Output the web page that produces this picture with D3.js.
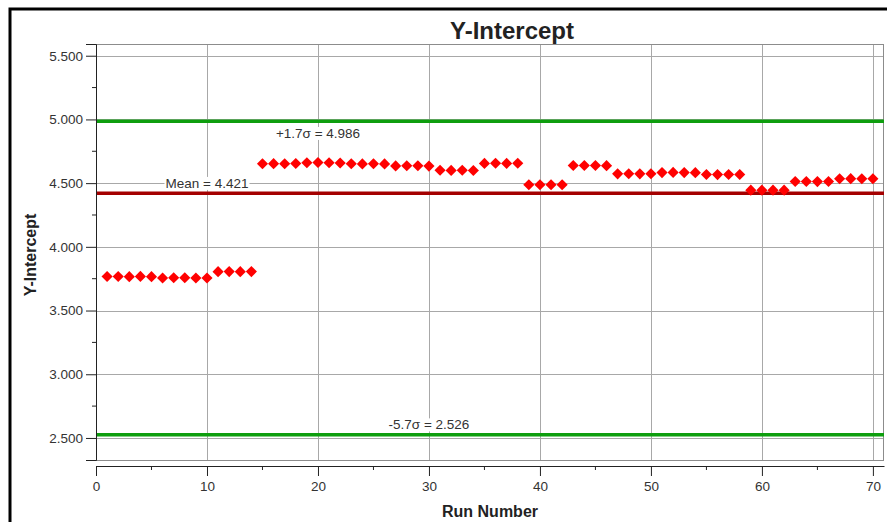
<!DOCTYPE html>
<html>
<head>
<meta charset="utf-8">
<style>
  body { margin: 0; background: #fff; }
  text { font-family: "Liberation Sans", Arial, sans-serif; }
</style>
</head>
<body>
<svg width="887" height="522"></svg>
<script src="https://d3js.org/d3.v7.min.js"></script>
<script>

// Data
var runs = d3.range(1, 71);
var yIntercept = [
  3.767, 3.767, 3.766, 3.768, 3.766, 3.755, 3.757, 3.757, 3.755, 3.755,
  3.805, 3.806, 3.805, 3.806,
  4.652, 4.653, 4.652, 4.654, 4.660, 4.662, 4.660, 4.658, 4.652, 4.651,
  4.652, 4.651, 4.635, 4.636, 4.636, 4.634, 4.601, 4.600, 4.601, 4.599,
  4.655, 4.656, 4.655, 4.656,
  4.487, 4.487, 4.487, 4.487, 4.638, 4.638, 4.638, 4.637,
  4.573, 4.574, 4.573, 4.574, 4.583, 4.584, 4.583, 4.582,
  4.568, 4.567, 4.568, 4.568,
  4.445, 4.445, 4.445, 4.445, 4.513, 4.513, 4.512, 4.513,
  4.534, 4.535, 4.534, 4.534
];
var lineValues = [4.986, 4.421, 2.526];
var lineLabels = ["+1.7\u03c3 = 4.986", "Mean = 4.421", "-5.7\u03c3 = 2.526"];
var yTicks = [2.5, 3.0, 3.5, 4.0, 4.5, 5.0, 5.5];
var xTicks = [0, 10, 20, 30, 40, 50, 60, 70];

var svg = d3.select("svg");
var margin = {top: 44, left: 96, right: 3, bottom: 62};
var width = 887 - margin.left - margin.right,
    height = 522 - margin.top - margin.bottom;

// outer frame (runs off the right/bottom edge)
svg.append("rect")
    .attr("x", 10).attr("y", 9)
    .attr("width", 900).attr("height", 600)
    .attr("fill", "none").attr("stroke", "#000").attr("stroke-width", 3);

var x = d3.scaleLinear().domain([0, 71]).range([0, width]);
var y = d3.scaleLinear().domain([2.327, 5.592]).range([height, 0]);

var g = svg.append("g").attr("transform", "translate(" + margin.left + "," + margin.top + ")");

// grid
g.append("g").selectAll("line").data(yTicks).join("line")
    .attr("x1", 0).attr("x2", width)
    .attr("y1", function(d) { return Math.round(y(d)) + 0.5; })
    .attr("y2", function(d) { return Math.round(y(d)) + 0.5; })
    .attr("stroke", "#a8a8a8");
g.append("g").selectAll("line").data(xTicks.slice(1)).join("line")
    .attr("x1", function(d) { return Math.round(x(d)) + 0.5; })
    .attr("x2", function(d) { return Math.round(x(d)) + 0.5; })
    .attr("y1", 0).attr("y2", height)
    .attr("stroke", "#a8a8a8");

// plot frame
g.append("rect")
    .attr("x", 0.5).attr("y", 0.5)
    .attr("width", width - 1).attr("height", height)
    .attr("fill", "none").attr("stroke", "#8c8c8c");

// control lines
var lineColors = ["#0e9e0e", "#a40000", "#0e9e0e"];
g.append("g").selectAll("line").data(lineValues).join("line")
    .attr("x1", 0).attr("x2", width)
    .attr("y1", function(d) { return y(d); })
    .attr("y2", function(d) { return y(d); })
    .attr("stroke", function(d, i) { return lineColors[i]; })
    .attr("stroke-width", 3.5);

// control line labels
var labelAt = [20, 10, 30], labelDy = [12, -10, -10];
var lbl = g.append("g").selectAll("g").data(lineValues).join("g")
    .attr("transform", function(d, i) {
      return "translate(" + x(labelAt[i]) + "," + (y(d) + labelDy[i]) + ")";
    });
lbl.append("text")
    .attr("text-anchor", "middle")
    .attr("dy", "0.35em")
    .attr("font-size", 13.5)
    .attr("fill", "#333")
    .text(function(d, i) { return lineLabels[i]; })
    .each(function() {
      var b = this.getBBox();
      d3.select(this.parentNode).insert("rect", "text")
          .attr("x", b.x - 1).attr("y", b.y + 1)
          .attr("width", b.width + 2).attr("height", b.height - 2)
          .attr("fill", "#fff");
    });

// points
g.append("g").selectAll("path").data(yIntercept).join("path")
    .attr("d", d3.symbol(d3.symbolSquare, 62))
    .attr("transform", function(d, i) {
      return "translate(" + x(runs[i]) + "," + y(d) + ") rotate(45)";
    })
    .attr("fill", "#ff0000");

// y axis
var yAxis = g.append("g")
    .call(d3.axisLeft(y).tickValues(yTicks).tickFormat(d3.format(".3f")).tickSize(10).tickPadding(3));
yAxis.select(".domain").attr("stroke", "#222");
yAxis.selectAll(".tick line").attr("stroke", "#222");
yAxis.selectAll("text").attr("font-size", 13.5).attr("fill", "#333");
g.append("g").selectAll("line").data(d3.range(2.75, 5.5, 0.5)).join("line")
    .attr("x1", -4).attr("x2", 0)
    .attr("y1", function(d) { return y(d); }).attr("y2", function(d) { return y(d); })
    .attr("stroke", "#222");

// x axis, set a little below the plot
var xAxis = g.append("g")
    .attr("transform", "translate(0," + (height + 6) + ")")
    .call(d3.axisBottom(x).tickValues(xTicks).tickSize(10).tickPadding(5).tickSizeOuter(0));
xAxis.select(".domain").attr("stroke", "#222");
xAxis.selectAll(".tick line").attr("stroke", "#222");
xAxis.selectAll("text").attr("font-size", 13.5).attr("fill", "#333");
xAxis.append("g").selectAll("line").data(d3.range(5, 71, 10)).join("line")
    .attr("x1", function(d) { return x(d); }).attr("x2", function(d) { return x(d); })
    .attr("y1", 0).attr("y2", 4)
    .attr("stroke", "#222");

// titles
svg.append("text")
    .attr("x", 512).attr("y", 39)
    .attr("text-anchor", "middle")
    .attr("font-size", 24).attr("font-weight", "bold").attr("fill", "#222")
    .text("Y-Intercept");
svg.append("text")
    .attr("x", 490).attr("y", 517)
    .attr("text-anchor", "middle")
    .attr("font-size", 16).attr("font-weight", "bold").attr("fill", "#222")
    .text("Run Number");
svg.append("text")
    .attr("transform", "translate(36,255) rotate(-90)")
    .attr("text-anchor", "middle")
    .attr("font-size", 16).attr("font-weight", "bold").attr("fill", "#222")
    .text("Y-Intercept");

</script>
</body>
</html>
